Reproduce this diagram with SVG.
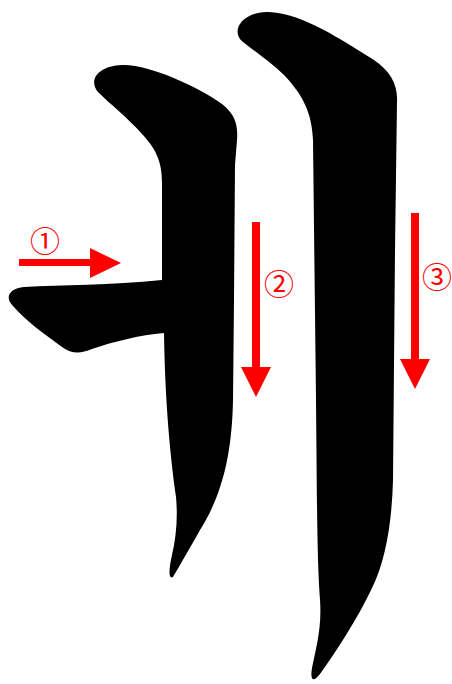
<svg xmlns="http://www.w3.org/2000/svg" width="452" height="684" viewBox="0 0 452 684">
<style>
.ink{fill:#000}
.arr{fill:#ff0000}
.num{fill:#ff0000;font-family:"Noto Sans CJK JP","DejaVu Sans",sans-serif;font-size:30px;text-anchor:middle;dominant-baseline:central}
</style>
<rect width="452" height="684" fill="#fff"/>
<g id="stroke12">
<path class="ink" d="M 98 92 C 88 80 98 66 122 65 C 150 64 200 88 222 104 C 236 115 238 126 237 140 L 235 165 L 234 300 L 233 400 C 232 455 222 495 200 530 C 190 548 180 565 173 577 C 168 580 169 568 172 555 C 176 538 178 518 176 497 C 170 455 165 400 164 333 C 140 335 112 342 92 349 C 80 354 72 354 62 347 C 44 334 25 320 13 306 C 4 297 10 288 24 287 C 62 285 110 285 162 280 L 162 183 C 162 160 155 148 142 134 C 128 118 110 104 98 92 Z"/>
</g>
<g id="stroke3">
<path class="ink" d="M 243 42 C 232 34 238 17 258 13 C 282 8 315 24 345 42 L 374 60 C 390 71 398 84 397 102 L 395 250 L 393 480 C 392 520 386 560 372 588 C 358 618 337 650 320 674 C 313 683 310 680 312 668 C 316 648 322 628 320 600 C 317 560 317 500 316 400 L 313 140 C 312 112 302 94 284 75 C 270 62 256 52 243 42 Z"/>
</g>
<g id="arrows">
<rect class="arr" x="19" y="259" width="72" height="7"/>
<polygon class="arr" points="90,248 121,263 90,278"/>
<rect class="arr" x="252" y="222" width="8" height="146"/>
<polygon class="arr" points="241,367 271,367 256,397"/>
<rect class="arr" x="411" y="213" width="8" height="147"/>
<polygon class="arr" points="400,359 430,359 415,389"/>
</g>
<g id="labels">
<text class="num" x="45" y="239">①</text>
<text class="num" x="279" y="282">②</text>
<text class="num" x="437" y="275">③</text>
</g>
</svg>
